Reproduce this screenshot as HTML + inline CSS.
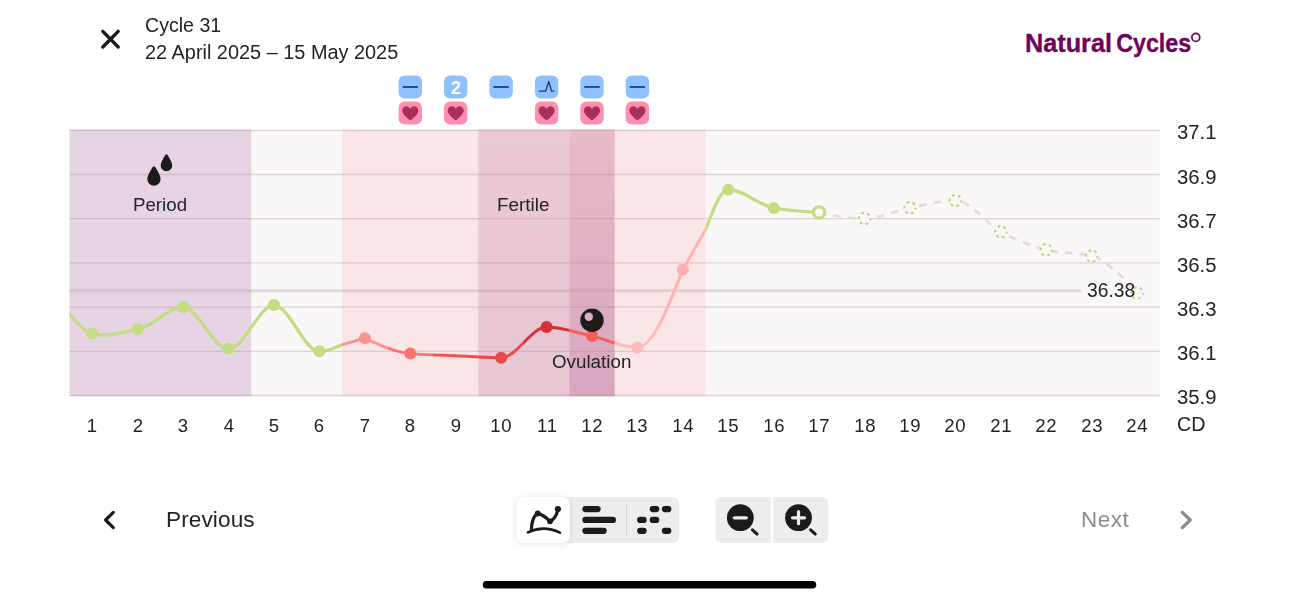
<!DOCTYPE html>
<html><head><meta charset="utf-8"><title>Cycle 31</title>
<style>
html,body{margin:0;padding:0;background:#fff;}
body{width:1299px;height:600px;position:relative;overflow:hidden;font-family:"Liberation Sans",sans-serif;color:#242424;}
svg{position:absolute;left:0;top:0;}
.t{position:absolute;white-space:nowrap;line-height:1;}
.t,.xl,.yl{will-change:transform;}
.xl{position:absolute;top:416.5px;width:40px;text-align:center;font-size:18.5px;letter-spacing:0.7px;text-indent:0.7px;line-height:1;color:#222;}
.yl{position:absolute;left:1177.1px;font-size:20.3px;line-height:1;color:#222;}
</style></head><body>
<svg width="1299" height="600" viewBox="0 0 1299 600">
<defs>
<clipPath id="c0"><rect x="69.60" y="100" width="272.55" height="320"/></clipPath><clipPath id="c1"><rect x="342.15" y="100" width="22.71" height="320"/></clipPath><clipPath id="c2"><rect x="364.86" y="100" width="22.71" height="320"/></clipPath><clipPath id="c3"><rect x="387.58" y="100" width="45.42" height="320"/></clipPath><clipPath id="c4"><rect x="433.00" y="100" width="45.43" height="320"/></clipPath><clipPath id="c5"><rect x="478.43" y="100" width="45.42" height="320"/></clipPath><clipPath id="c6"><rect x="523.85" y="100" width="45.43" height="320"/></clipPath><clipPath id="c7"><rect x="569.28" y="100" width="45.42" height="320"/></clipPath><clipPath id="c8"><rect x="614.70" y="100" width="45.43" height="320"/></clipPath><clipPath id="c9"><rect x="660.13" y="100" width="22.71" height="320"/></clipPath><clipPath id="c10"><rect x="682.84" y="100" width="22.71" height="320"/></clipPath><clipPath id="c11"><rect x="705.55" y="100" width="119.56" height="320"/></clipPath>
<linearGradient id="ov" x1="0" x2="0" y1="0" y2="1"><stop offset="0" stop-color="#e8bbc8"/><stop offset="1" stop-color="#d8a6bf"/></linearGradient>
<linearGradient id="fe" x1="0" x2="0" y1="0" y2="1"><stop offset="0" stop-color="#eac9d4"/><stop offset="1" stop-color="#e8c6d4"/></linearGradient>
<clipPath id="cp"><rect x="69.6" y="130.3" width="1090.2" height="265.2"/></clipPath>
<filter id="sh" x="-30%" y="-30%" width="160%" height="160%"><feDropShadow dx="0" dy="0.6" stdDeviation="3.4" flood-color="#000" flood-opacity="0.11"/></filter>
</defs>
<!-- chart background and bands -->
<rect x="69.6" y="129.60" width="1090.2" height="266.60" fill="#faf7f8"/>
<rect x="69.6" y="129.60" width="181.70" height="266.60" fill="#e6d3e3"/>
<rect x="342.15" y="129.60" width="363.40" height="266.60" fill="#fae5e7"/>
<rect x="478.43" y="129.60" width="90.85" height="266.60" fill="url(#fe)"/>
<rect x="569.28" y="129.60" width="45.43" height="266.60" fill="url(#ov)"/>
<g stroke="#a8807f" stroke-opacity="0.3" stroke-width="1.3"><line x1="69.6" x2="1159.8" y1="130.30" y2="130.30"/><line x1="69.6" x2="1159.8" y1="174.50" y2="174.50"/><line x1="69.6" x2="1159.8" y1="218.70" y2="218.70"/><line x1="69.6" x2="1159.8" y1="262.90" y2="262.90"/><line x1="69.6" x2="1159.8" y1="307.10" y2="307.10"/><line x1="69.6" x2="1159.8" y1="351.30" y2="351.30"/><line x1="69.6" x2="1159.8" y1="395.50" y2="395.50"/></g>
<!-- cover line 36.38 -->
<rect x="69.6" y="289.0" width="1011.8" height="3.4" fill="#b69794" fill-opacity="0.29"/>
<!-- prediction -->
<path d="M819.11 212.40 C834.25 215.50 849.40 218.60 864.54 218.60 C879.68 218.60 894.82 210.80 909.96 207.80 C925.10 204.80 940.25 200.60 955.39 200.60 C970.53 200.60 985.67 223.60 1000.81 231.80 C1015.95 240.00 1031.10 245.77 1046.24 249.80 C1061.38 253.83 1076.52 251.87 1091.66 256.00 C1106.80 260.13 1121.95 276.57 1137.09 293.00" fill="none" stroke="#e6dadc" stroke-width="2.7" stroke-dasharray="7.6 7"/>
<circle cx="864.54" cy="218.60" r="5.7" fill="#faf7f8" stroke="#bbd96a" stroke-width="2" stroke-dasharray="2.8 3.169" stroke-dashoffset="1"/><circle cx="909.96" cy="207.80" r="5.7" fill="#faf7f8" stroke="#bbd96a" stroke-width="2" stroke-dasharray="2.8 3.169" stroke-dashoffset="1"/><circle cx="955.39" cy="200.60" r="5.7" fill="#faf7f8" stroke="#bbd96a" stroke-width="2" stroke-dasharray="2.8 3.169" stroke-dashoffset="1"/><circle cx="1000.81" cy="231.80" r="5.7" fill="#faf7f8" stroke="#bbd96a" stroke-width="2" stroke-dasharray="2.8 3.169" stroke-dashoffset="1"/><circle cx="1046.24" cy="249.80" r="5.7" fill="#faf7f8" stroke="#bbd96a" stroke-width="2" stroke-dasharray="2.8 3.169" stroke-dashoffset="1"/><circle cx="1091.66" cy="256.00" r="5.7" fill="#faf7f8" stroke="#bbd96a" stroke-width="2" stroke-dasharray="2.8 3.169" stroke-dashoffset="1"/><circle cx="1137.09" cy="293.00" r="5.7" fill="#faf7f8" stroke="#bbd96a" stroke-width="2" stroke-dasharray="2.8 3.169" stroke-dashoffset="1"/>
<!-- main curve -->
<path d="M69.10 313.20 C76.84 323.26 84.58 332.10 92.31 333.80 C107.45 337.13 122.60 332.33 137.74 329.40 C152.88 326.47 168.02 307.30 183.16 307.30 C198.30 307.30 213.45 349.20 228.59 349.20 C243.73 349.20 258.87 305.40 274.01 305.40 C289.15 305.40 304.30 351.60 319.44 351.60 C327.01 351.60 334.58 348.15 342.15 344.70" clip-path="url(#c0)" fill="none" stroke="#c4dd82" stroke-width="3.3" stroke-linejoin="round" stroke-linecap="round"/><path d="M342.15 344.70 L364.86 338.20" clip-path="url(#c1)" fill="none" stroke="#ff9090" stroke-width="2.9" stroke-linejoin="round" stroke-linecap="round"/><path d="M364.86 338.20 C380.00 345.20 395.15 352.20 410.29 353.60 C425.43 355.00 440.57 355.00 455.71 355.70 C470.85 356.40 486.00 357.80 501.14 357.80 C516.28 357.80 531.42 327.00 546.56 327.00 C561.70 327.00 576.85 332.68 591.99 336.10 C607.13 339.52 622.27 347.50 637.41 347.50 C652.55 347.50 667.70 308.55 682.84 269.60" clip-path="url(#c2)" fill="none" stroke="#ff9090" stroke-width="2.9" stroke-linejoin="round" stroke-linecap="round"/><path d="M364.86 338.20 C380.00 345.20 395.15 352.20 410.29 353.60 C425.43 355.00 440.57 355.00 455.71 355.70 C470.85 356.40 486.00 357.80 501.14 357.80 C516.28 357.80 531.42 327.00 546.56 327.00 C561.70 327.00 576.85 332.68 591.99 336.10 C607.13 339.52 622.27 347.50 637.41 347.50 C652.55 347.50 667.70 308.55 682.84 269.60" clip-path="url(#c3)" fill="none" stroke="#ff7070" stroke-width="2.9" stroke-linejoin="round" stroke-linecap="round"/><path d="M364.86 338.20 C380.00 345.20 395.15 352.20 410.29 353.60 C425.43 355.00 440.57 355.00 455.71 355.70 C470.85 356.40 486.00 357.80 501.14 357.80 C516.28 357.80 531.42 327.00 546.56 327.00 C561.70 327.00 576.85 332.68 591.99 336.10 C607.13 339.52 622.27 347.50 637.41 347.50 C652.55 347.50 667.70 308.55 682.84 269.60" clip-path="url(#c4)" fill="none" stroke="#fa4c4a" stroke-width="2.9" stroke-linejoin="round" stroke-linecap="round"/><path d="M364.86 338.20 C380.00 345.20 395.15 352.20 410.29 353.60 C425.43 355.00 440.57 355.00 455.71 355.70 C470.85 356.40 486.00 357.80 501.14 357.80 C516.28 357.80 531.42 327.00 546.56 327.00 C561.70 327.00 576.85 332.68 591.99 336.10 C607.13 339.52 622.27 347.50 637.41 347.50 C652.55 347.50 667.70 308.55 682.84 269.60" clip-path="url(#c5)" fill="none" stroke="#e84848" stroke-width="2.9" stroke-linejoin="round" stroke-linecap="round"/><path d="M364.86 338.20 C380.00 345.20 395.15 352.20 410.29 353.60 C425.43 355.00 440.57 355.00 455.71 355.70 C470.85 356.40 486.00 357.80 501.14 357.80 C516.28 357.80 531.42 327.00 546.56 327.00 C561.70 327.00 576.85 332.68 591.99 336.10 C607.13 339.52 622.27 347.50 637.41 347.50 C652.55 347.50 667.70 308.55 682.84 269.60" clip-path="url(#c6)" fill="none" stroke="#d83038" stroke-width="2.9" stroke-linejoin="round" stroke-linecap="round"/><path d="M364.86 338.20 C380.00 345.20 395.15 352.20 410.29 353.60 C425.43 355.00 440.57 355.00 455.71 355.70 C470.85 356.40 486.00 357.80 501.14 357.80 C516.28 357.80 531.42 327.00 546.56 327.00 C561.70 327.00 576.85 332.68 591.99 336.10 C607.13 339.52 622.27 347.50 637.41 347.50 C652.55 347.50 667.70 308.55 682.84 269.60" clip-path="url(#c7)" fill="none" stroke="#fb5b58" stroke-width="2.9" stroke-linejoin="round" stroke-linecap="round"/><path d="M364.86 338.20 C380.00 345.20 395.15 352.20 410.29 353.60 C425.43 355.00 440.57 355.00 455.71 355.70 C470.85 356.40 486.00 357.80 501.14 357.80 C516.28 357.80 531.42 327.00 546.56 327.00 C561.70 327.00 576.85 332.68 591.99 336.10 C607.13 339.52 622.27 347.50 637.41 347.50 C652.55 347.50 667.70 308.55 682.84 269.60" clip-path="url(#c8)" fill="none" stroke="#ffbaba" stroke-width="2.9" stroke-linejoin="round" stroke-linecap="round"/><path d="M364.86 338.20 C380.00 345.20 395.15 352.20 410.29 353.60 C425.43 355.00 440.57 355.00 455.71 355.70 C470.85 356.40 486.00 357.80 501.14 357.80 C516.28 357.80 531.42 327.00 546.56 327.00 C561.70 327.00 576.85 332.68 591.99 336.10 C607.13 339.52 622.27 347.50 637.41 347.50 C652.55 347.50 667.70 308.55 682.84 269.60" clip-path="url(#c9)" fill="none" stroke="#ffb0b0" stroke-width="2.9" stroke-linejoin="round" stroke-linecap="round"/><path d="M682.84 269.60 L705.55 229.65" clip-path="url(#c10)" fill="none" stroke="#ffb0b0" stroke-width="2.9" stroke-linejoin="round" stroke-linecap="round"/><path d="M705.55 229.65 C713.12 209.68 720.69 189.70 728.26 189.70 C743.40 189.70 758.55 205.07 773.69 208.00 C788.83 210.93 803.97 211.67 819.11 212.40" clip-path="url(#c11)" fill="none" stroke="#c4dd82" stroke-width="3.3" stroke-linejoin="round" stroke-linecap="round"/>
<circle cx="92.31" cy="333.40" r="6.0" fill="#c4dd82"/><circle cx="137.74" cy="329.00" r="6.0" fill="#c4dd82"/><circle cx="183.16" cy="306.90" r="6.0" fill="#c4dd82"/><circle cx="228.59" cy="348.80" r="6.0" fill="#c4dd82"/><circle cx="274.01" cy="305.00" r="6.0" fill="#c4dd82"/><circle cx="319.44" cy="351.20" r="6.0" fill="#c4dd82"/><circle cx="364.86" cy="338.20" r="6.0" fill="#ff9090"/><circle cx="410.29" cy="353.60" r="6.0" fill="#ff7070"/><circle cx="501.14" cy="357.80" r="6.0" fill="#e84848"/><circle cx="546.56" cy="327.00" r="6.0" fill="#d83038"/><circle cx="591.99" cy="336.10" r="6.0" fill="#fb5b58"/><circle cx="637.41" cy="347.50" r="6.0" fill="#ffbaba"/><circle cx="682.84" cy="269.60" r="6.0" fill="#ffb0b0"/><circle cx="728.26" cy="189.70" r="6.0" fill="#c4dd82"/><circle cx="773.69" cy="208.00" r="6.0" fill="#c4dd82"/><circle cx="819.11" cy="212.40" r="5.6" fill="#faf7f8" stroke="#c4dd82" stroke-width="3.2"/>
<!-- ovulation icon -->
<circle cx="592.0" cy="320.3" r="11.7" fill="#1b1b1b"/>
<circle cx="588.8" cy="316.8" r="4.2" fill="#dfaec2"/>
<!-- period drops -->
<g fill="#1b1b1b">
<path transform="translate(153.95 177.1)" d="M0 -10.9 C0.9 -10.9 1.5 -9.8 2.3 -8.400 C4 -5.500 6.6 -1.700 6.600 2 A6.600 6.600 0 0 1 -6.600 2 C-6.600 -1.700 -4 -5.500 -2.300 -8.400 C-1.500 -9.800 -0.900 -10.900 0 -10.900 Z"/>
<path transform="translate(166.45 163.7) scale(0.87)" d="M0 -10.9 C0.9 -10.9 1.5 -9.8 2.3 -8.400 C4 -5.500 6.6 -1.700 6.600 2 A6.600 6.600 0 0 1 -6.600 2 C-6.600 -1.700 -4 -5.500 -2.300 -8.400 C-1.500 -9.800 -0.900 -10.900 0 -10.900 Z"/>
</g>
<!-- badges -->
<rect x="398.6" y="75.4" width="23.4" height="23.1" rx="6.2" fill="#8fc0ff"/><rect x="402.6" y="85.9" width="15.4" height="2" rx="0.5" fill="#23508f"/><rect x="444.0" y="75.4" width="23.4" height="23.1" rx="6.2" fill="#8fc0ff"/><text x="456.0" y="94.0" text-anchor="middle" font-family="Liberation Sans, sans-serif" font-weight="700" font-size="17.6" fill="#fff">2</text><rect x="489.4" y="75.4" width="23.4" height="23.1" rx="6.2" fill="#8fc0ff"/><rect x="493.4" y="85.9" width="15.4" height="2" rx="0.5" fill="#23508f"/><rect x="534.9" y="75.4" width="23.4" height="23.1" rx="6.2" fill="#8fc0ff"/><path d="M538.9 91.1 h6.7 l3.2 -9.7 l2.7 9.700 h2.8" fill="none" stroke="#1f3f77" stroke-width="1.4" stroke-linejoin="round" stroke-linecap="butt"/><rect x="580.3" y="75.4" width="23.4" height="23.1" rx="6.2" fill="#8fc0ff"/><rect x="584.3" y="85.9" width="15.4" height="2" rx="0.5" fill="#23508f"/><rect x="625.7" y="75.4" width="23.4" height="23.1" rx="6.2" fill="#8fc0ff"/><rect x="629.7" y="85.9" width="15.4" height="2" rx="0.5" fill="#23508f"/><rect x="398.6" y="101.4" width="23.4" height="23.2" rx="6.2" fill="#ff8fb0"/><path transform="translate(410.29 113.30) scale(0.765)" d="M0 9.5 C-4 6.5 -10.5 1.5 -10.5 -3.5 C-10.5 -7 -8 -9.3 -5.2 -9.3 C-3 -9.3 -1 -8 0 -6 C1 -8 3 -9.3 5.2 -9.3 C8 -9.3 10.5 -7 10.5 -3.5 C10.5 1.5 4 6.5 0 9.5 Z" fill="#a83058"/><rect x="444.0" y="101.4" width="23.4" height="23.2" rx="6.2" fill="#ff8fb0"/><path transform="translate(455.71 113.30) scale(0.765)" d="M0 9.5 C-4 6.5 -10.5 1.5 -10.5 -3.5 C-10.5 -7 -8 -9.3 -5.2 -9.3 C-3 -9.3 -1 -8 0 -6 C1 -8 3 -9.3 5.2 -9.3 C8 -9.3 10.5 -7 10.5 -3.5 C10.5 1.5 4 6.5 0 9.5 Z" fill="#a83058"/><rect x="534.9" y="101.4" width="23.4" height="23.2" rx="6.2" fill="#ff8fb0"/><path transform="translate(546.56 113.30) scale(0.765)" d="M0 9.5 C-4 6.5 -10.5 1.5 -10.5 -3.5 C-10.5 -7 -8 -9.3 -5.2 -9.3 C-3 -9.3 -1 -8 0 -6 C1 -8 3 -9.3 5.2 -9.3 C8 -9.3 10.5 -7 10.5 -3.5 C10.5 1.5 4 6.5 0 9.5 Z" fill="#a83058"/><rect x="580.3" y="101.4" width="23.4" height="23.2" rx="6.2" fill="#ff8fb0"/><path transform="translate(591.99 113.30) scale(0.765)" d="M0 9.5 C-4 6.5 -10.5 1.5 -10.5 -3.5 C-10.5 -7 -8 -9.3 -5.2 -9.3 C-3 -9.3 -1 -8 0 -6 C1 -8 3 -9.3 5.2 -9.3 C8 -9.3 10.5 -7 10.5 -3.5 C10.5 1.5 4 6.5 0 9.5 Z" fill="#a83058"/><rect x="625.7" y="101.4" width="23.4" height="23.2" rx="6.2" fill="#ff8fb0"/><path transform="translate(637.41 113.30) scale(0.765)" d="M0 9.5 C-4 6.5 -10.5 1.5 -10.5 -3.5 C-10.5 -7 -8 -9.3 -5.2 -9.3 C-3 -9.3 -1 -8 0 -6 C1 -8 3 -9.3 5.2 -9.3 C8 -9.3 10.5 -7 10.5 -3.5 C10.5 1.5 4 6.5 0 9.5 Z" fill="#a83058"/>
<!-- close X -->
<path d="M102.8 31.4 L118.200 47 M118.200 31.4 L102.8 47" stroke="#1b1b1b" stroke-width="3.4" stroke-linecap="round" fill="none"/>
<!-- toolbar -->
<rect x="516.2" y="497" width="162.700" height="46" rx="6" fill="#ededed"/>
<rect x="516.2" y="497" width="53.400" height="46" rx="7" fill="#fff" filter="url(#sh)"/>
<rect x="626.1" y="504.300" width="1" height="31.400" fill="#d2d2d2"/>
<!-- line chart icon -->
<g fill="none" stroke="#1b1b1b" stroke-linecap="round" stroke-linejoin="round">
<path d="M527.9 532.400 Q543.500 524.800 560 532.700" stroke-width="2.600"/>
<path d="M531.4 530.400 C531.500 522 533.400 516 537.700 513.400 Q543.900 515.200 550 521.300 Q556.300 518.300 557.900 509.200" stroke-width="3.200"/>
</g>
<circle cx="557.9" cy="509" r="3.100" fill="#1b1b1b"/><circle cx="550" cy="521.300" r="2.900" fill="#1b1b1b"/><circle cx="537.7" cy="513.500" r="2.900" fill="#1b1b1b"/>
<!-- bars icon -->
<g fill="#1b1b1b">
<rect x="582.3" y="506" width="18.400" height="6.200" rx="3.100"/>
<rect x="582.3" y="516.800" width="33.700" height="6.200" rx="3.100"/>
<rect x="582.3" y="527.700" width="24.500" height="6.200" rx="3.100"/>
<!-- dots icon -->
<rect x="649.7" y="506" width="9.600" height="6.200" rx="3.100"/>
<rect x="661.8" y="506" width="9.600" height="6.200" rx="3.100"/>
<rect x="637.1" y="516.800" width="9.600" height="6.200" rx="3.100"/>
<rect x="649.7" y="516.800" width="9.600" height="6.200" rx="3.100"/>
<rect x="637.1" y="527.700" width="9.600" height="6.200" rx="3.100"/>
<rect x="661.8" y="527.700" width="9.600" height="6.200" rx="3.100"/>
</g>
<!-- zoom buttons -->
<rect x="715.4" y="497" width="112.900" height="46" rx="6" fill="#ededed"/>
<rect x="770.9" y="497" width="2" height="46" fill="#fff"/>
<g>
<circle cx="740.3" cy="517.700" r="13.400" fill="#1b1b1b"/>
<rect x="732.7" y="516.200" width="15.200" height="3.200" rx="1.600" fill="#ededed"/>
<path d="M752.4 529.800 L757.100 534.100" stroke="#1b1b1b" stroke-width="3" stroke-linecap="round"/>
<circle cx="798.5" cy="517.700" r="13.400" fill="#1b1b1b"/>
<rect x="790.9" y="516.200" width="15.200" height="3.200" rx="1.600" fill="#ededed"/>
<rect x="796.9" y="510.100" width="3.200" height="15.200" rx="1.600" fill="#ededed"/>
<path d="M810.6 529.800 L815.300 534.100" stroke="#1b1b1b" stroke-width="3" stroke-linecap="round"/>
</g>
<!-- chevrons -->
<path d="M113.300 512.4 L105.600 520 L113.300 527.6" fill="none" stroke="#1b1b1b" stroke-width="3.2" stroke-linecap="round" stroke-linejoin="round"/>
<path d="M1182.300 512.3 L1190.300 520 L1182.300 527.7" fill="none" stroke="#8a8a8a" stroke-width="3.2" stroke-linecap="round" stroke-linejoin="round"/>
<!-- logo -->
<g font-family="Liberation Sans, sans-serif" font-weight="700" font-size="25.4" fill="#72035c" stroke="#72035c" stroke-width="0.35">
<text x="1025.0" y="51.5" textLength="87" lengthAdjust="spacingAndGlyphs">Natural</text>
<text x="1116.2" y="51.5" textLength="75" lengthAdjust="spacingAndGlyphs">Cycles</text>
</g>
<circle cx="1195.8" cy="37.4" r="3.95" fill="none" stroke="#72035c" stroke-width="1.75"/>
<!-- home indicator -->
<rect x="482.7" y="580.900" width="333.600" height="7.600" rx="3.800" fill="#000"/>
</svg>
<div class="t" style="left:144.8px;top:15.6px;font-size:19.6px;">Cycle 31</div>
<div class="t" style="left:145.4px;top:43.0px;font-size:19.9px;">22 April 2025 – 15 May 2025</div>

<div class="t" style="left:133.0px;top:196.4px;font-size:18.7px;">Period</div>
<div class="t" style="left:497.4px;top:196.3px;font-size:18.9px;">Fertile</div>
<div class="t" style="left:551.8px;top:352.7px;font-size:18.8px;">Ovulation</div>
<div class="t" style="left:1087px;top:281.2px;font-size:19.3px;">36.38</div>
<div class="xl" style="left:72.3px">1</div><div class="xl" style="left:117.7px">2</div><div class="xl" style="left:163.2px">3</div><div class="xl" style="left:208.6px">4</div><div class="xl" style="left:254.0px">5</div><div class="xl" style="left:299.4px">6</div><div class="xl" style="left:344.9px">7</div><div class="xl" style="left:390.3px">8</div><div class="xl" style="left:435.7px">9</div><div class="xl" style="left:481.1px">10</div><div class="xl" style="left:526.6px">11</div><div class="xl" style="left:572.0px">12</div><div class="xl" style="left:617.4px">13</div><div class="xl" style="left:662.8px">14</div><div class="xl" style="left:708.3px">15</div><div class="xl" style="left:753.7px">16</div><div class="xl" style="left:799.1px">17</div><div class="xl" style="left:844.5px">18</div><div class="xl" style="left:890.0px">19</div><div class="xl" style="left:935.4px">20</div><div class="xl" style="left:980.8px">21</div><div class="xl" style="left:1026.2px">22</div><div class="xl" style="left:1071.7px">23</div><div class="xl" style="left:1117.1px">24</div>
<div class="yl" style="top:122.3px">37.1</div><div class="yl" style="top:166.5px">36.9</div><div class="yl" style="top:210.7px">36.7</div><div class="yl" style="top:254.9px">36.5</div><div class="yl" style="top:299.1px">36.3</div><div class="yl" style="top:343.3px">36.1</div><div class="yl" style="top:386.6px">35.9</div>
<div class="t" style="left:1176.8px;top:414.7px;font-size:19.7px;color:#222;">CD</div>
<div class="t" style="left:165.9px;top:509.3px;font-size:22.6px;letter-spacing:0.1px;">Previous</div>
<div class="t" style="left:1080.6px;top:509.4px;font-size:22.4px;letter-spacing:0.55px;color:#8c8c8c;">Next</div>
</body></html>
